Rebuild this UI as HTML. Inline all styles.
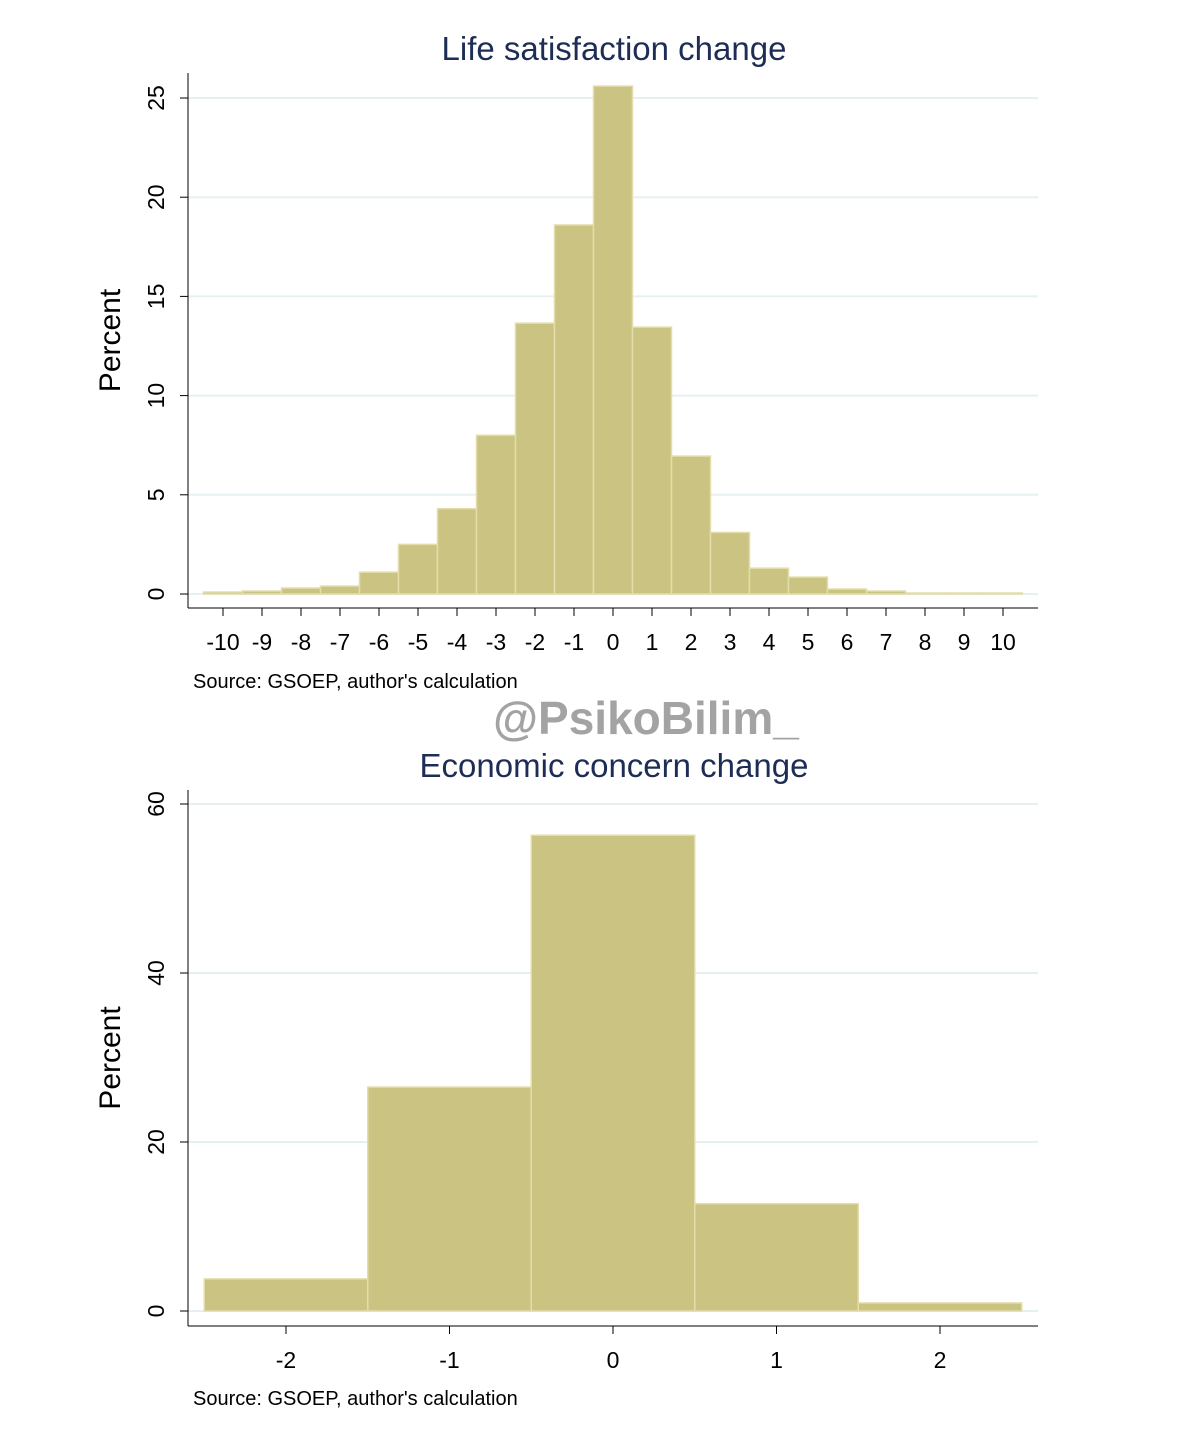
<!DOCTYPE html>
<html><head><meta charset="utf-8"><style>
body{margin:0;background:#fff;}
svg text{font-family:"Liberation Sans",Arial,sans-serif;}
</style></head><body>
<svg id="chart" width="1177" height="1446" xmlns="http://www.w3.org/2000/svg">
<rect width="1177" height="1446" fill="#fff"/>
<g id="top"></g>
<g id="bot"></g>
<text x="646" y="734" text-anchor="middle" font-size="46" font-weight="bold" fill="#9a9a9a" opacity="0.9">@PsikoBilim_</text>
</svg>
<script>
const lsCats=[-10,-9,-8,-7,-6,-5,-4,-3,-2,-1,0,1,2,3,4,5,6,7,8,9,10];
const lsVals=[0.1,0.15,0.3,0.4,1.1,2.5,4.3,8.0,13.65,18.6,25.6,13.45,6.95,3.1,1.3,0.85,0.25,0.15,0.05,0.05,0.05];
const lsTicks=[0,5,10,15,20,25];
const ecCats=[-2,-1,0,1,2];
const ecVals=[3.8,26.5,56.3,12.7,0.95];
const ecTicks=[0,20,40,60];
const NS='http://www.w3.org/2000/svg';
function mk(parent,tag,attrs,txt){const e=document.createElementNS(NS,tag);for(const k in attrs)e.setAttribute(k,attrs[k]);if(txt!==undefined)e.textContent=txt;parent.appendChild(e);return e;}
function draw(g,o){
  const xs=v=>o.x0+(v-o.cmin)*o.xu;
  const ys=v=>o.y0-v*o.yu;
  o.ticks.forEach(t=>{
    const gl=mk(g,'line',{x1:188,x2:1038,y1:ys(t),y2:ys(t),stroke:'#e6f0f2','stroke-width':2});
    
    
    const tk=mk(g,'line',{x1:180,x2:188,y1:ys(t),y2:ys(t),stroke:'#000','stroke-width':1});
    
    
    const tl=mk(g,'text',{x:0,y:0,'font-size':23,'text-anchor':'middle',transform:`translate(164,${ys(t)}) rotate(-90)`},String(t));
    
    
  });
  o.cats.forEach((c,i)=>{
    const h=o.vals[i]*o.yu;
    const b=mk(g,'rect',{x:xs(c)-o.xu/2,y:o.y0-h,width:o.xu,height:h,fill:'#cbc381',stroke:'#e2ddaa','stroke-width':1.5});
    
    
    const xt=mk(g,'line',{x1:xs(c),x2:xs(c),y1:o.axY,y2:o.axY+8,stroke:'#000'});
    
    
    const xl=mk(g,'text',{x:xs(c),y:o.axY+42,'font-size':23,'text-anchor':'middle'},String(c));
    
    
  });
  const ya=mk(g,'line',{x1:188,x2:188,y1:o.yTop,y2:o.axY,stroke:'#000','stroke-width':1});
  
  
  const xa=mk(g,'line',{x1:188,x2:1038,y1:o.axY,y2:o.axY,stroke:'#000','stroke-width':1});
  
  
  const ti=mk(g,'text',{x:614,y:o.titleY,'font-size':33,'text-anchor':'middle',fill:'#1e2d55'},o.title);
  
  
  const yt=mk(g,'text',{x:0,y:0,'font-size':30,'text-anchor':'middle',transform:`translate(120,${(o.yTop+o.axY)/2}) rotate(-90)`},'Percent');
  
  
  const src=mk(g,'text',{x:193,y:o.srcY,'font-size':20},"Source: GSOEP, author's calculation");
  
  
}
draw(document.getElementById('top'),{cats:lsCats,vals:lsVals,ticks:lsTicks,x0:223,cmin:-10,xu:39,y0:594,yu:19.84,axY:608,yTop:73,title:'Life satisfaction change',titleY:60,srcY:688});
draw(document.getElementById('bot'),{cats:ecCats,vals:ecVals,ticks:ecTicks,x0:286,cmin:-2,xu:163.5,y0:1311,yu:8.45,axY:1326,yTop:790,title:'Economic concern change',titleY:777,srcY:1405});
</script>
</body></html>
